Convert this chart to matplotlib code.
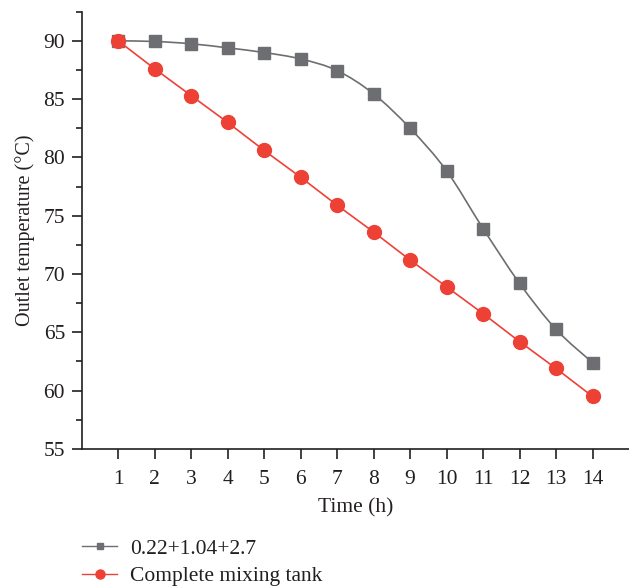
import numpy as np
import matplotlib
matplotlib.use("Agg")
import matplotlib.pyplot as plt
from matplotlib.path import Path
from matplotlib.patches import PathPatch
from matplotlib.lines import Line2D
from matplotlib.ticker import MultipleLocator

plt.rcParams['font.family'] = ['Liberation Serif', 'DejaVu Serif']

time_h = np.arange(1, 15)
layered = np.array([90.0, 89.95, 89.75, 89.4, 89.0, 88.45, 87.45, 85.45,
                    82.5, 78.85, 73.9, 69.2, 65.25, 62.4])
mixing = np.array([90.0, 87.6, 85.3, 83.0, 80.6, 78.3, 75.9, 73.6,
                   71.2, 68.9, 66.6, 64.2, 61.9, 59.5])
labels = ["0.22+1.04+2.7", "Complete mixing tank"]

GRAY = '#6d6e71'
RED = '#ee4136'
INK = '#231f20'


def smooth_path(x, y, t=1/6):
    # Catmull-Rom style bezier through the points
    verts = [(x[0], y[0])]
    codes = [Path.MOVETO]
    n = len(x)
    for i in range(n - 1):
        x0, y0 = (x[i - 1], y[i - 1]) if i > 0 else (x[i], y[i])
        x3, y3 = (x[i + 2], y[i + 2]) if i + 2 < n else (x[i + 1], y[i + 1])
        c1 = (x[i] + (x[i + 1] - x0) * t, y[i] + (y[i + 1] - y0) * t)
        c2 = (x[i + 1] - (x3 - x[i]) * t, y[i + 1] - (y3 - y[i]) * t)
        verts += [c1, c2, (x[i + 1], y[i + 1])]
        codes += [Path.CURVE4] * 3
    return Path(verts, codes)


fig = plt.figure(figsize=(6.29, 5.86), dpi=100)
ax = fig.add_axes([0.130, 0.234, 0.870, 0.746])

ax.add_patch(PathPatch(smooth_path(time_h, layered), facecolor='none',
                       edgecolor=GRAY, lw=1.2, zorder=2))
ax.plot(time_h, layered, linestyle='', marker='s', ms=8.5, color=GRAY, zorder=3)
ax.plot(time_h, mixing, '-', color=RED, lw=1.2, marker='o', ms=10, zorder=3)

ax.set_xlim(0, 15)
ax.set_ylim(55, 92.5)
ax.set_xticks(time_h)
ax.yaxis.set_major_locator(MultipleLocator(5))
ax.yaxis.set_minor_locator(MultipleLocator(2.5))
ax.set_yticks([55, 60, 65, 70, 75, 80, 85, 90])
ax.tick_params(which='major', direction='out', length=7, width=1.2,
               labelsize=15.5, colors=INK)
ax.tick_params(axis='x', which='major', pad=8)
ax.tick_params(axis='y', which='major', pad=5)
ax.tick_params(which='minor', direction='out', length=4, width=1.2, colors=INK)
for s in ['top', 'right']:
    ax.spines[s].set_visible(False)
for s in ['left', 'bottom']:
    ax.spines[s].set_linewidth(1.2)
    ax.spines[s].set_color(INK)

ax.set_xlabel("Time (h)", fontsize=15.5, color=INK, labelpad=7)
ax.set_ylabel("Outlet temperature (°C)", fontsize=14.5, color=INK, labelpad=6)

handles = [Line2D([], [], color=GRAY, lw=1.0, marker='s', ms=5),
           Line2D([], [], color=RED, lw=1.0, marker='o', ms=6.5)]
fig.legend(handles, labels, loc='upper left', bbox_to_anchor=(0.130, 0.081),
           frameon=False, fontsize=15.5, handlelength=1.65, handletextpad=0.6,
           labelspacing=0.36, borderpad=0, borderaxespad=0, labelcolor=INK)

fig.savefig("out.png", dpi=100)
